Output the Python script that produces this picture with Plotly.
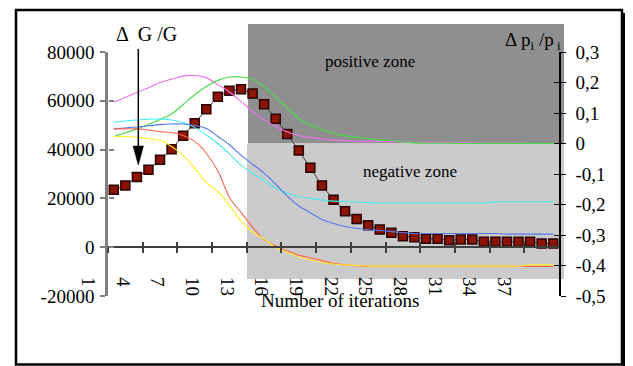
import plotly.graph_objects as go

# ---------------- data ----------------
iterations = list(range(1, 40))
x_tick_labels = ["1", "4", "7", "10", "13", "16", "19", "22", "25", "28", "31", "34", "37"]
x_tick_pos = [0.5 + 3 * k for k in range(13)]

left_tick_vals = [-20000, 0, 20000, 40000, 60000, 80000]
left_tick_text = ["-20000", "0", "20000", "40000", "60000", "80000"]
right_tick_vals = [-0.5, -0.4, -0.3, -0.2, -0.1, 0, 0.1, 0.2, 0.3]
right_tick_text = ["-0,5", "-0,4", "-0,3", "-0,2", "-0,1", "0", "0,1", "0,2", "0,3"]

delta_g = [23550, 25300, 28740, 31720, 35800, 40170, 45720, 50780, 56500, 61640,
           64090, 64780, 62950, 58540, 52660, 46410, 39600, 32530, 25310, 19470,
           14700, 11590, 8980, 7220, 5880, 4490, 4080, 3430, 3430, 2860,
           3140, 3140, 2200, 2200, 2200, 2200, 2200, 1510, 1510]

p_magenta = [0.136, 0.151, 0.167, 0.183, 0.200, 0.211, 0.221, 0.223, 0.216, 0.193,
             0.169, 0.138, 0.105, 0.077, 0.056, 0.038, 0.026, 0.020, 0.015, 0.011,
             0.009, 0.008, 0.007, 0.007, 0.006, 0.005, 0.004, 0.004, 0.003, 0.003,
             0.002, 0.002, 0.001, 0.001, 0.001, 0.001, 0.0, 0.0, 0.0]
p_green = [0.023, 0.035, 0.048, 0.063, 0.079, 0.097, 0.128, 0.160, 0.187, 0.207,
           0.218, 0.218, 0.210, 0.187, 0.151, 0.117, 0.082, 0.061, 0.046, 0.033,
           0.025, 0.020, 0.016, 0.011, 0.010, 0.005, 0.002, 0.001, 0.001, 0.001,
           0.0, 0.0, 0.0, 0.0, 0.0, 0.0, 0.0, 0.0, 0.0]
p_cyan = [0.070, 0.074, 0.077, 0.080, 0.080, 0.077, 0.069, 0.052, 0.028, 0.000,
          -0.034, -0.071, -0.098, -0.121, -0.146, -0.162, -0.174, -0.180, -0.185, -0.189,
          -0.190, -0.192, -0.194, -0.195, -0.195, -0.195, -0.195, -0.195, -0.195, -0.195,
          -0.195, -0.195, -0.195, -0.191, -0.191, -0.191, -0.191, -0.191, -0.191]
p_blue = [0.048, 0.051, 0.054, 0.058, 0.062, 0.064, 0.064, 0.059, 0.049, 0.023,
          -0.004, -0.038, -0.068, -0.097, -0.133, -0.172, -0.205, -0.227, -0.249, -0.262,
          -0.272, -0.278, -0.283, -0.285, -0.289, -0.292, -0.295, -0.295, -0.295, -0.295,
          -0.295, -0.295, -0.295, -0.295, -0.297, -0.297, -0.297, -0.297, -0.297]
p_red = [0.048, 0.048, 0.048, 0.044, 0.039, 0.036, 0.026, 0.007, -0.032, -0.090,
         -0.176, -0.226, -0.274, -0.315, -0.336, -0.352, -0.366, -0.375, -0.384, -0.393,
         -0.398, -0.401, -0.403, -0.403, -0.403, -0.403, -0.403, -0.403, -0.403, -0.403,
         -0.403, -0.403, -0.403, -0.403, -0.403, -0.403, -0.403, -0.403, -0.403]
p_yellow = [0.023, 0.023, 0.021, 0.016, 0.010, -0.010, -0.040, -0.080, -0.128, -0.157,
            -0.203, -0.254, -0.290, -0.313, -0.341, -0.357, -0.372, -0.382, -0.390, -0.395,
            -0.398, -0.400, -0.402, -0.402, -0.402, -0.402, -0.402, -0.402, -0.402, -0.402,
            -0.402, -0.402, -0.402, -0.402, -0.402, -0.402, -0.398, -0.398, -0.398]

series = [
    (p_magenta, "#f070f0"),
    (p_green, "#44dd44"),
    (p_cyan, "#44eeee"),
    (p_blue, "#5577ee"),
    (p_red, "#ff6650"),
    (p_yellow, "#ffee22"),
]

FONT = "Liberation Serif"

fig = go.Figure()

for vals, col in series:
    fig.add_trace(go.Scatter(x=iterations, y=vals, yaxis="y2", mode="lines",
                             line=dict(color=col, width=1.1, shape="spline", smoothing=1),
                             showlegend=False, hoverinfo="skip"))

fig.add_trace(go.Scatter(x=iterations, y=delta_g, mode="lines+markers",
                         line=dict(color="#404040", width=1),
                         marker=dict(symbol="square", size=9, color="#8b1400",
                                     line=dict(color="#2a0000", width=1.5)),
                         showlegend=False, hoverinfo="skip"))

# dummy traces to register overlay axes used for crossing tick marks
fig.add_trace(go.Scatter(x=[None], y=[None], xaxis="x2", yaxis="y3", showlegend=False))
fig.add_trace(go.Scatter(x=[None], y=[None], xaxis="x2", yaxis="y4", showlegend=False))

xrange = [0.5, 39.5]
tickfont = dict(family=FONT, size=19, color="black")

# page body has an 8px margin: figure is shrunk/shifted to compensate
fig.update_layout(
    width=625, height=358,
    margin=dict(l=100, r=74, t=44, b=70),
    paper_bgcolor="white", plot_bgcolor="rgba(0,0,0,0)",
    showlegend=False,
    xaxis=dict(range=xrange, anchor="free", position=0.2, showgrid=False, zeroline=False,
               showline=True, linecolor="#404040", linewidth=2,
               tickmode="array", tickvals=x_tick_pos, ticktext=x_tick_labels,
               ticks="outside", ticklen=5, tickwidth=1.5, tickcolor="#404040",
               tickangle=90, tickfont=tickfont, ticklabelshift=-20, ticklabelstandoff=20),
    xaxis2=dict(range=xrange, overlaying="x", anchor="free", position=0.2, showgrid=False,
                zeroline=False, showline=False, tickmode="array", tickvals=x_tick_pos,
                ticks="inside", ticklen=5, tickwidth=1.5, tickcolor="#404040",
                showticklabels=False),
    yaxis=dict(range=[-20000, 80000], showgrid=False, zeroline=False,
               showline=True, linecolor="#808080", linewidth=2.5,
               tickmode="array", tickvals=left_tick_vals, ticktext=left_tick_text,
               ticks="outside", ticklen=5, tickwidth=1.5, tickcolor="#808080",
               tickfont=tickfont, ticklabelstandoff=2),
    yaxis2=dict(range=[-0.5, 0.3], overlaying="y", side="right", showgrid=False,
                zeroline=False, showline=True, linecolor="black", linewidth=1.5,
                tickmode="array", tickvals=right_tick_vals, ticktext=right_tick_text,
                ticks="outside", ticklen=5, tickwidth=1.2, tickcolor="black",
                tickfont=tickfont, ticklabelstandoff=6),
    yaxis3=dict(range=[-20000, 80000], overlaying="y", side="left", anchor="free",
                position=0, showgrid=False, zeroline=False, showline=False,
                tickmode="array", tickvals=left_tick_vals, ticks="inside", ticklen=5,
                tickwidth=1.5, tickcolor="#808080", showticklabels=False),
    yaxis4=dict(range=[-0.5, 0.3], overlaying="y", side="right", anchor="free",
                position=1, showgrid=False, zeroline=False, showline=False,
                tickmode="array", tickvals=right_tick_vals, ticks="inside", ticklen=5,
                tickwidth=1.2, tickcolor="black", showticklabels=False),
)

# pixel helpers (reference screenshot coordinates -> paper fractions)
L, R, T, B = 108, 559, 52, 296
def px(x):
    return (x - L) / (R - L)
def py(y):
    return (B - y) / (B - T)

shapes = [
    # zones
    dict(type="rect", xref="paper", yref="paper", x0=px(248), x1=px(564),
         y0=0.625, y1=py(24), fillcolor="#8f8f8f", line=dict(width=0), layer="below"),
    dict(type="rect", xref="paper", yref="paper", x0=px(247), x1=px(564),
         y0=py(279), y1=0.625, fillcolor="#cbcbcb", line=dict(width=0), layer="below"),
    # frame
    dict(type="rect", xref="paper", yref="paper", x0=px(16), x1=px(622),
         y0=py(364.5), y1=py(10), line=dict(color="black", width=2.5),
         fillcolor="rgba(0,0,0,0)", layer="above"),
    dict(type="rect", xref="paper", yref="paper", x0=px(623), x1=px(627),
         y0=py(367), y1=py(13), line=dict(width=0), fillcolor="black", layer="above"),
    # arrow (shaft + head)
    dict(type="line", xref="paper", yref="paper", x0=px(138.3), x1=px(138.3),
         y0=py(49), y1=py(150), line=dict(color="black", width=1.5), layer="above"),
    dict(type="path", xref="paper", yref="paper",
         path="M {a},{b} L {c},{b} L {d},{e} Z".format(a=px(133), b=py(146), c=px(143.5),
                                                       d=px(138.3), e=py(165)),
         fillcolor="black", line=dict(color="black", width=0.5), layer="above"),
]
fig.update_layout(shapes=shapes)

ann = [
    dict(text="positive zone", x=px(370), y=py(61), font=dict(family=FONT, size=17)),
    dict(text="negative zone", x=px(410), y=py(171), font=dict(family=FONT, size=17)),
    dict(text="Δ  G /G", x=px(146), y=py(34), font=dict(family=FONT, size=20)),
    dict(text="Δ p<sub>i</sub> /p<sub> i</sub>", x=px(533), y=py(41),
         font=dict(family=FONT, size=19)),
    dict(text="Number of iterations", x=px(340), y=py(300), font=dict(family=FONT, size=19)),
]
annotations = []
for a in ann:
    a.update(xref="paper", yref="paper", showarrow=False, xanchor="center", yanchor="middle")
    a["font"]["color"] = "black"
    annotations.append(a)
fig.update_layout(annotations=annotations)

fig.write_html("out.html")
